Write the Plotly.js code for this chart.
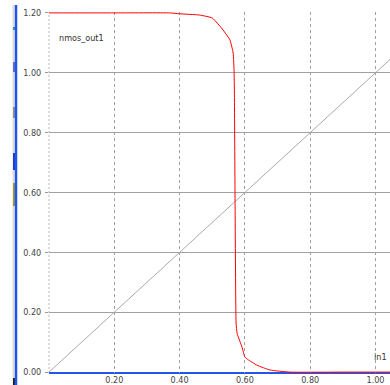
<!DOCTYPE html>
<html>
<head>
<meta charset="utf-8">
<script src="https://cdn.plot.ly/plotly-3.0.1.min.js"></script>
<style>html,body{margin:0;padding:0;background:#fff;}#chart{width:390px;height:385px;}</style>
</head>
<body>
<div id="chart"></div>
<script>
// Output curve nmos_out1 vs in1
const in1Values = [0, 0.20, 0.37, 0.40, 0.46, 0.50, 0.533, 0.554, 0.564, 0.567, 0.568, 0.570, 0.573, 0.576, 0.591, 0.600, 0.609, 0.637, 0.677, 0.738, 0.90, 1.045];
const outValues = [1.20, 1.20, 1.20, 1.197, 1.193, 1.183, 1.143, 1.110, 1.066, 1.000, 0.909, 0.552, 0.164, 0.130, 0.084, 0.050, 0.042, 0.023, 0.007, 0.000, 0.000, 0.000];
// Reference line in1 vs in1
const refX = [0, 0.20, 0.40, 0.60, 0.80, 1.00, 1.045];
const refY = [0, 0.20, 0.40, 0.60, 0.80, 1.00, 1.045];
// Tick labels
const xTickVals = [0.2, 0.4, 0.6, 0.8, 1.0];
const xTickText = ["0.20", "0.40", "0.60", "0.80", "1.00"];
const yTickVals = [0, 0.2, 0.4, 0.6, 0.8, 1.0, 1.2];
const yTickText = ["0.00", "0.20", "0.40", "0.60", "0.80", "1.00", "1.20"];
const seriesName = "nmos_out1";
const xName = "in1";

const FONT = "'DejaVu Sans Condensed', 'Liberation Sans Narrow', 'Arial Narrow', sans-serif";

const traces = [
  {x: refX, y: refY, mode: 'lines', line: {color: '#aaaaaa', width: 1}, hoverinfo: 'skip', showlegend: false},
  {x: in1Values, y: outValues, mode: 'lines', line: {color: '#ff0000', width: 1, shape: 'spline', smoothing: 0.4}, name: seriesName, showlegend: false}
];

const W = 341, H = 361;
function px(x){ return (x - 49) / W; }
function py(y){ return (373 - y) / H; }

const layout = {
  width: 390, height: 385,
  margin: {l: 49, r: 0, t: 12, b: 12, pad: 0},
  paper_bgcolor: '#ffffff', plot_bgcolor: '#ffffff',
  showlegend: false,
  xaxis: {
    range: [0, 1.0444], tickvals: xTickVals, ticktext: xTickText,
    showgrid: true, gridcolor: '#a0a0a0', gridwidth: 1, griddash: '3px,3px',
    zeroline: false, showline: false, ticks: '', automargin: false,
    tickfont: {family: FONT, size: 9, color: '#444'}, ticklabelstandoff: 0
  },
  yaxis: {
    range: [-0.003, 1.203], tickvals: yTickVals, ticktext: yTickText,
    showgrid: true, gridcolor: '#a0a0a0', gridwidth: 1,
    zeroline: false, showline: false, ticks: 'outside', ticklen: 3, tickcolor: '#999', tickwidth: 1,
    automargin: false, tickfont: {family: FONT, size: 9, color: '#444'}, ticklabelstandoff: 2
  },
  shapes: [
    {type: 'line', xref: 'paper', yref: 'paper', x0: 0, x1: 0, y0: 0, y1: 1, layer: 'below', line: {color: '#b8b8b8', width: 1, dash: '2px,2px'}},
    {type: 'line', xref: 'paper', yref: 'paper', x0: 0, x1: 1, y0: py(373), y1: py(373), layer: 'below', line: {color: '#2255ee', width: 2}},
    {type: 'rect', xref: 'paper', yref: 'paper', x0: px(12.5), x1: px(14.5), y0: py(385), y1: py(5), line: {width: 0}, fillcolor: '#dedcd2'},
    {type: 'rect', xref: 'paper', yref: 'paper', x0: px(13), x1: px(15), y0: py(30), y1: py(27), line: {width: 0}, fillcolor: '#20a0a0'},
    {type: 'rect', xref: 'paper', yref: 'paper', x0: px(13), x1: px(15), y0: py(72), y1: py(62), line: {width: 0}, fillcolor: '#6a6ad0'},
    {type: 'rect', xref: 'paper', yref: 'paper', x0: px(13), x1: px(15), y0: py(118), y1: py(107), line: {width: 0}, fillcolor: '#909090'},
    {type: 'rect', xref: 'paper', yref: 'paper', x0: px(13), x1: px(15), y0: py(170), y1: py(153), line: {width: 0}, fillcolor: '#1c3ec8'},
    {type: 'rect', xref: 'paper', yref: 'paper', x0: px(13), x1: px(15), y0: py(206), y1: py(183), line: {width: 0}, fillcolor: '#9a9a30'},
    {type: 'rect', xref: 'paper', yref: 'paper', x0: px(13), x1: px(15), y0: py(385), y1: py(378), line: {width: 0}, fillcolor: '#202020'},
    {type: 'line', xref: 'paper', yref: 'paper', x0: px(16), x1: px(16), y0: py(385), y1: py(5), line: {color: '#2255ee', width: 2.5}}
  ],
  annotations: [
    {text: seriesName, xref: 'paper', yref: 'paper', x: px(57), y: py(38), xanchor: 'left', yanchor: 'middle', showarrow: false,
     font: {family: FONT, size: 9, color: '#333'}},
    {text: xName, xref: 'paper', yref: 'paper', x: px(389), y: py(357), xanchor: 'right', yanchor: 'middle', showarrow: false,
     font: {family: FONT, size: 9, color: '#333'}}
  ]
};

Plotly.newPlot('chart', traces, layout, {displayModeBar: false, staticPlot: true});
</script>
</body>
</html>
